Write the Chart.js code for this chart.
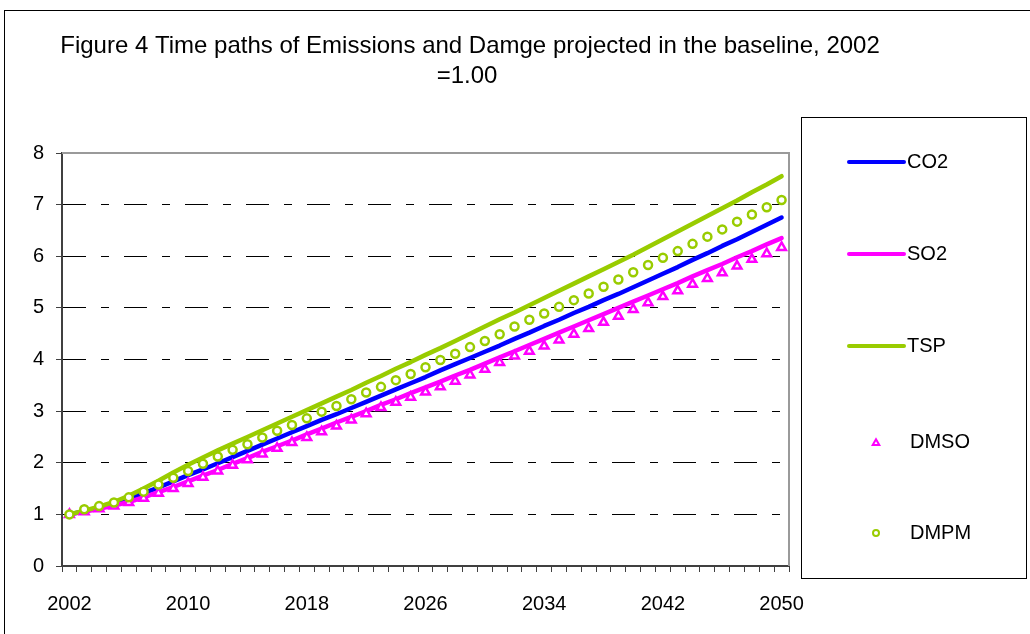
<!DOCTYPE html>
<html>
<head>
<meta charset="utf-8">
<title>Emissions and damage, baseline</title>
<script src="https://cdn.jsdelivr.net/npm/chart.js@4.4.1/dist/chart.umd.min.js"></script>
<style>
  html, body { margin: 0; padding: 0; background: #fff; }
  #wrap { width: 1030px; height: 634px; }
</style>
</head>
<body>
<div id="wrap"><canvas id="c" width="1030" height="634"></canvas></div>
<script>
// index, 2002 = 1.00
const years = ['2002','2003','2004','2005','2006','2007','2008','2009','2010','2011',
  '2012','2013','2014','2015','2016','2017','2018','2019','2020','2021',
  '2022','2023','2024','2025','2026','2027','2028','2029','2030','2031',
  '2032','2033','2034','2035','2036','2037','2038','2039','2040','2041',
  '2042','2043','2044','2045','2046','2047','2048','2049','2050'];

const co2 = [1.00,1.06,1.13,1.21,1.30,1.41,1.52,1.64,1.76,1.87,
  1.99,2.11,2.23,2.35,2.47,2.59,2.71,2.83,2.94,3.06,
  3.18,3.30,3.42,3.54,3.66,3.79,3.91,4.03,4.15,4.27,
  4.40,4.52,4.65,4.77,4.90,5.02,5.15,5.27,5.40,5.53,
  5.66,5.79,5.93,6.06,6.20,6.33,6.47,6.61,6.75];

const so2 = [1.00,1.05,1.11,1.17,1.24,1.33,1.43,1.53,1.64,1.75,
  1.86,1.98,2.09,2.21,2.32,2.43,2.55,2.66,2.78,2.89,
  3.00,3.12,3.23,3.35,3.46,3.57,3.69,3.80,3.92,4.04,
  4.16,4.28,4.40,4.52,4.64,4.76,4.88,5.00,5.12,5.24,
  5.36,5.48,5.61,5.73,5.85,5.98,6.10,6.23,6.35];

const tsp = [1.00,1.07,1.15,1.24,1.36,1.50,1.65,1.81,1.96,2.10,
  2.24,2.37,2.50,2.63,2.76,2.89,3.02,3.15,3.28,3.41,
  3.55,3.68,3.82,3.95,4.09,4.22,4.36,4.50,4.64,4.78,
  4.91,5.05,5.19,5.33,5.47,5.61,5.75,5.89,6.03,6.18,
  6.33,6.48,6.63,6.78,6.93,7.08,7.24,7.39,7.55];

const dmso = [1.00,1.05,1.11,1.16,1.23,1.31,1.41,1.50,1.60,1.72,
  1.84,1.95,2.06,2.17,2.28,2.39,2.49,2.60,2.71,2.83,
  2.95,3.07,3.17,3.27,3.37,3.47,3.58,3.70,3.81,3.94,
  4.07,4.16,4.26,4.38,4.49,4.60,4.72,4.84,4.97,5.10,
  5.22,5.33,5.46,5.57,5.68,5.81,5.94,6.05,6.17];

const dmpm = [1.00,1.10,1.16,1.23,1.33,1.44,1.58,1.71,1.84,1.98,
  2.12,2.25,2.36,2.49,2.62,2.73,2.86,2.99,3.10,3.23,
  3.36,3.47,3.60,3.72,3.85,3.99,4.11,4.24,4.36,4.49,
  4.64,4.77,4.89,5.02,5.15,5.28,5.41,5.55,5.69,5.83,
  5.97,6.10,6.24,6.38,6.52,6.67,6.81,6.95,7.09];

const titleLines = ['Figure 4 Time paths of Emissions and Damge projected in the baseline, 2002', '=1.00'];

const FONT = '"Liberation Sans", Arial, sans-serif';
const BLUE = '#0000FF', PINK = '#FF00FF', LIME = '#99CC00';

// frame, plot border, title and the boxed legend on the right
const figureFrame = {
  id: 'figureFrame',
  beforeDraw(chart) {
    const ctx = chart.ctx;
    ctx.save();
    ctx.fillStyle = '#fff';
    ctx.fillRect(0, 0, chart.width, chart.height);
    ctx.strokeStyle = '#000';
    ctx.lineWidth = 1;
    ctx.strokeRect(4.5, 10.5, chart.width + 20, chart.height + 20);
    ctx.restore();
  },
  beforeDatasetsDraw(chart) {
    const {ctx, chartArea: a} = chart;
    ctx.save();
    ctx.strokeStyle = '#9a9a9a';
    ctx.lineWidth = 2;
    ctx.beginPath();
    ctx.moveTo(a.left, a.top);
    ctx.lineTo(a.right, a.top);
    ctx.lineTo(a.right, a.bottom);
    ctx.stroke();
    ctx.restore();
  },
  afterDraw(chart) {
    const ctx = chart.ctx;
    ctx.save();
    ctx.fillStyle = '#000';
    ctx.textAlign = 'center';
    ctx.textBaseline = 'middle';
    ctx.font = '24px ' + FONT;
    ctx.fillText(titleLines[0], 470, 46);
    ctx.fillText(titleLines[1], 467, 76);

    // legend box
    ctx.strokeStyle = '#000';
    ctx.lineWidth = 1;
    ctx.strokeRect(801.5, 117.5, 225, 461);
    ctx.font = '20px ' + FONT;
    ctx.textAlign = 'left';
    const rows = [162, 254, 346, 442, 533];
    chart.data.datasets.forEach((ds, i) => {
      const y = rows[i];
      if (ds.showLine === false) {
        const tri = ds.pointStyle === 'triangle';
        const style = {pointStyle: ds.pointStyle, radius: tri ? 3.8 : 3, borderWidth: 2, rotation: 0};
        ctx.strokeStyle = ds.pointBorderColor;
        ctx.fillStyle = '#fff';
        ctx.lineWidth = 2;
        Chart.helpers.drawPoint(ctx, style, 876, y + (tri ? 1 : 0));
        ctx.fillStyle = '#000';
        ctx.fillText(ds.label, 910, y);
      } else {
        ctx.strokeStyle = ds.borderColor;
        ctx.lineWidth = 4;
        ctx.lineCap = 'round';
        ctx.beginPath();
        ctx.moveTo(849, y);
        ctx.lineTo(904, y);
        ctx.stroke();
        ctx.fillStyle = '#000';
        ctx.fillText(ds.label, 907, y);
      }
    });
    ctx.restore();
  }
};

const lineSet = (label, data, color, order) => ({
  label, data, borderColor: color, backgroundColor: color,
  borderWidth: 4.5, borderCapStyle: 'round', borderJoinStyle: 'round',
  pointRadius: 0, tension: 0, fill: false, order
});

const pointSet = (label, data, color, style, radius, order) => ({
  label, data, showLine: false, pointStyle: style, pointRadius: radius,
  borderColor: color, pointBorderColor: color, pointBackgroundColor: '#fff',
  pointBorderWidth: 2.5, order
});

new Chart(document.getElementById('c'), {
  type: 'line',
  data: {
    labels: years,
    datasets: [
      lineSet('CO2', co2, BLUE, 5),
      lineSet('SO2', so2, PINK, 4),
      lineSet('TSP', tsp, LIME, 3),
      pointSet('DMSO', dmso, PINK, 'triangle', 5, 2),
      pointSet('DMPM', dmpm, LIME, 'circle', 4, 1)
    ]
  },
  plugins: [figureFrame],
  options: {
    responsive: false,
    animation: false,
    devicePixelRatio: 1,
    layout: { padding: { left: 0, top: 153, right: 241, bottom: 0 } },
    plugins: {
      legend: { display: false },
      title: { display: false },
      tooltip: { enabled: false }
    },
    scales: {
      x: {
        type: 'category',
        offset: true,
        grid: { offset: true, drawOnChartArea: false, drawTicks: true, tickLength: 6, tickColor: '#404040', tickWidth: 1 },
        border: { color: '#404040', width: 2 },
        ticks: {
          autoSkip: false, maxRotation: 0, minRotation: 0, padding: 20, color: '#000',
          font: { family: FONT, size: 20 },
          callback: (v, i) => (i % 8 === 0 ? years[i] : '')
        },
        afterFit: s => { s.height = 68; }
      },
      y: {
        min: 0, max: 8,
        ticks: { stepSize: 1, padding: 12, color: '#000', font: { family: FONT, size: 20 } },
        grid: {
          color: c => (c.tick && (c.tick.value === 0 || c.tick.value === 8)) ? 'rgba(0,0,0,0)' : '#000',
          lineWidth: 1, tickLength: 6, tickColor: '#404040', tickWidth: 1
        },
        border: { color: '#404040', width: 2, dash: [23, 15, 8, 15] },
        afterFit: s => { s.width = 62; }
      }
    }
  }
});
</script>
</body>
</html>
